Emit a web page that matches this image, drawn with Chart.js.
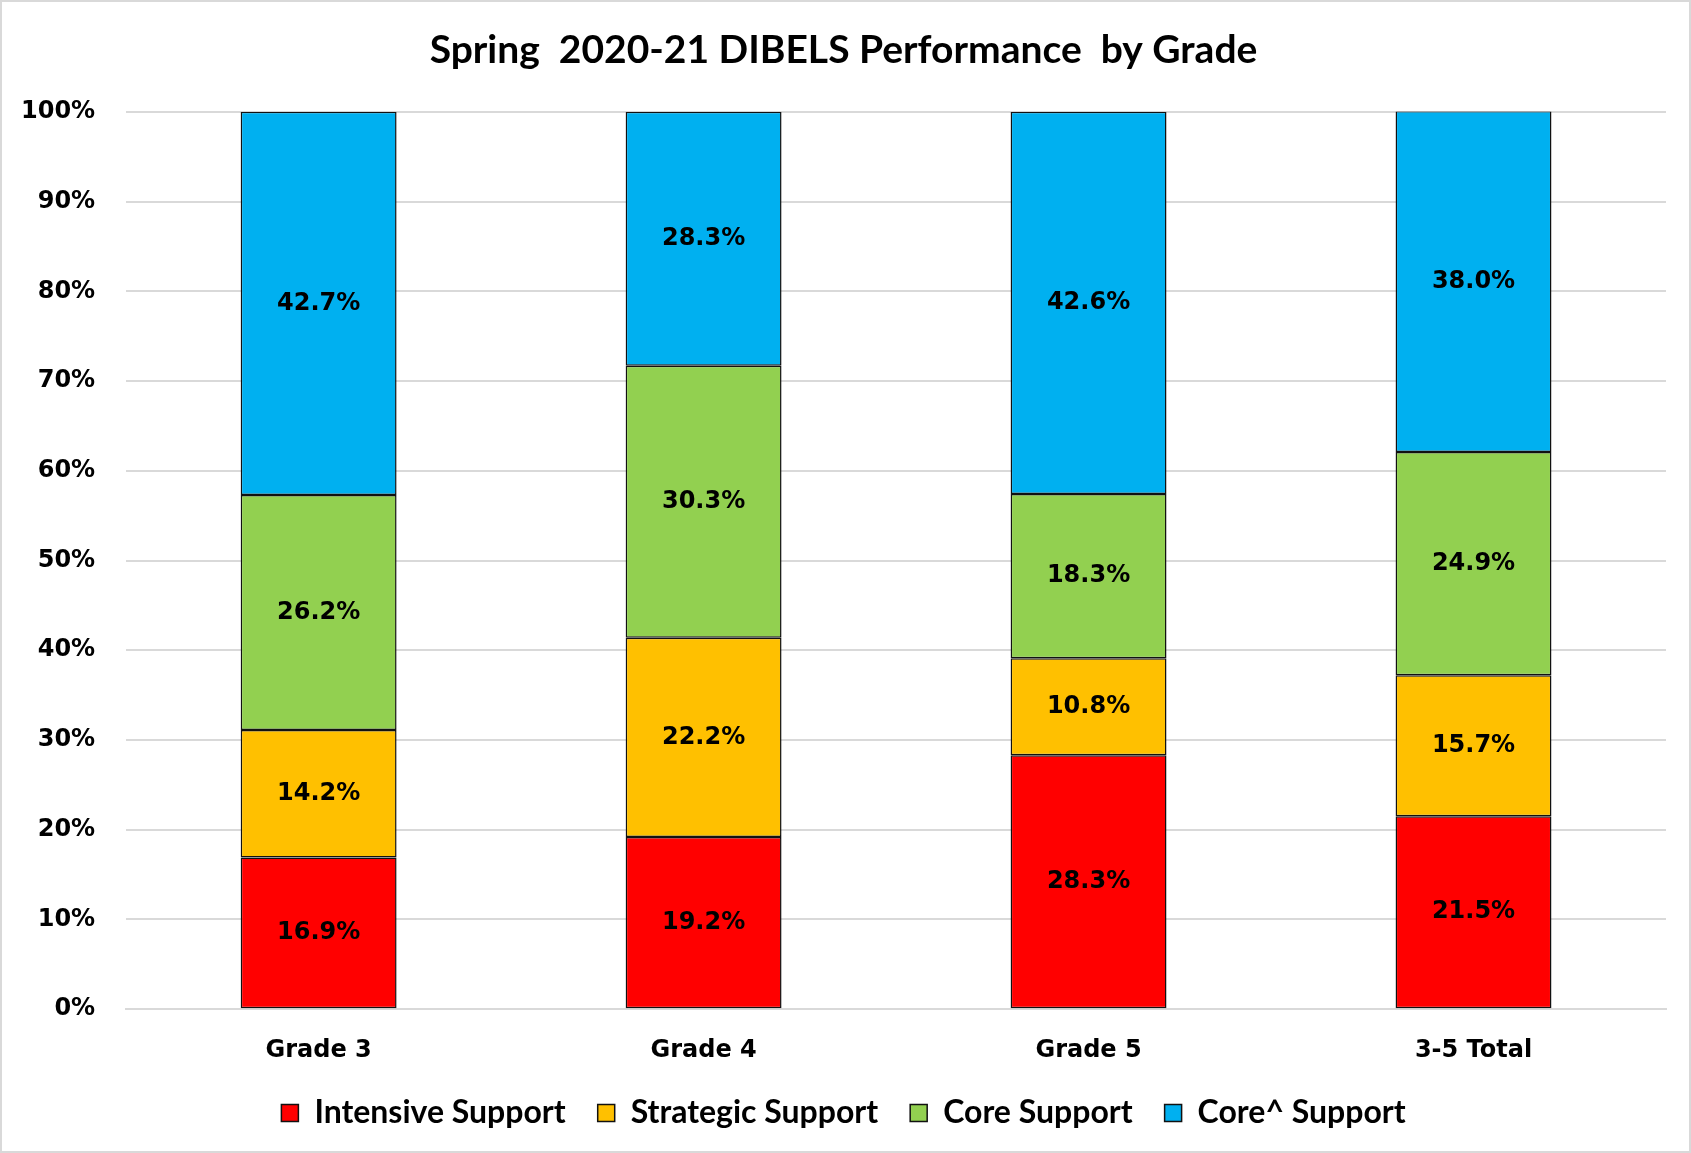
<!DOCTYPE html>
<html>
<head>
<meta charset="utf-8">
<script src="https://cdn.jsdelivr.net/npm/chart.js@4/dist/chart.umd.min.js"></script>
<style>
  html, body { margin: 0; padding: 0; background: #fff; }
  #wrap {
    width: 1691px;
    height: 1153px;
    box-sizing: border-box;
    border: 2px solid #d9d9d9;
  }
</style>
</head>
<body>
<div id="wrap"><canvas id="chart"></canvas></div>
<script>
const GRADES = ["Grade 3", "Grade 4", "Grade 5", "3-5 Total"];
const INTENSIVE = [16.9, 19.2, 28.3, 21.5];
const STRATEGIC = [14.2, 22.2, 10.8, 15.7];
const CORE = [26.2, 30.3, 18.3, 24.9];
const CORE_PLUS = [42.7, 28.3, 42.6, 38.0];

const LABEL_FONT = "'DejaVu Sans', Verdana, sans-serif";
const HEAD_FONT = "Lato, 'Open Sans', sans-serif";

// values written in the middle of every segment
const segmentLabels = {
  id: "segmentLabels",
  afterDatasetsDraw(chart) {
    const ctx = chart.ctx;
    ctx.save();
    ctx.font = "bold 24px " + LABEL_FONT;
    ctx.fillStyle = "#000";
    ctx.textAlign = "center";
    ctx.textBaseline = "middle";
    chart.data.datasets.forEach((ds, i) => {
      chart.getDatasetMeta(i).data.forEach((bar, j) => {
        const p = bar.getCenterPoint();
        ctx.fillText(ds.data[j].toFixed(1) + "%", p.x, p.y);
      });
    });
    ctx.restore();
  },
};

const makeSet = (label, data, color) => ({
  label: label,
  data: data,
  backgroundColor: color,
  borderColor: "#111",
  borderWidth: 1.5,
  borderSkipped: false,
  categoryPercentage: 1,
  barPercentage: 0.405,
});

new Chart(document.getElementById("chart"), {
  type: "bar",
  data: {
    labels: GRADES,
    datasets: [
      makeSet("Intensive Support", INTENSIVE, "#FF0000"),
      makeSet("Strategic Support", STRATEGIC, "#FFC000"),
      makeSet("Core Support", CORE, "#92D050"),
      makeSet("Core^ Support", CORE_PLUS, "#00B0F0"),
    ],
  },
  plugins: [segmentLabels],
  options: {
    responsive: true,
    maintainAspectRatio: false,
    animation: false,
    layout: {
      padding: { left: 19, right: 23, top: 0, bottom: 12 },
    },
    plugins: {
      title: {
        display: true,
        text: "Spring  2020-21 DIBELS Performance  by Grade",
        color: "#000",
        font: { family: HEAD_FONT, size: 39, weight: "bold" },
        padding: { top: 25, bottom: 38 },
      },
      legend: {
        position: "bottom",
        labels: {
          color: "#000",
          font: { family: HEAD_FONT, size: 32, weight: "bold" },
          boxWidth: 17,
          boxHeight: 17,
          padding: 32,
        },
      },
      tooltip: { enabled: false },
    },
    scales: {
      x: {
        stacked: true,
        grid: { display: false, tickLength: 27 },
        border: { display: true, color: "#d9d9d9", width: 2 },
        ticks: {
          color: "#000",
          padding: 0,
          font: { family: LABEL_FONT, size: 24, weight: "bold" },
        },
      },
      y: {
        stacked: true,
        min: 0,
        max: 100,
        grid: {
          color: "#d9d9d9",
          lineWidth: 2,
          tickLength: 31,
          tickColor: "rgba(0,0,0,0)",
        },
        border: { display: false },
        ticks: {
          stepSize: 10,
          color: "#000",
          padding: 0,
          font: { family: LABEL_FONT, size: 24, weight: "bold" },
          callback: (v) => v + "%",
        },
      },
    },
  },
});
</script>
</body>
</html>
